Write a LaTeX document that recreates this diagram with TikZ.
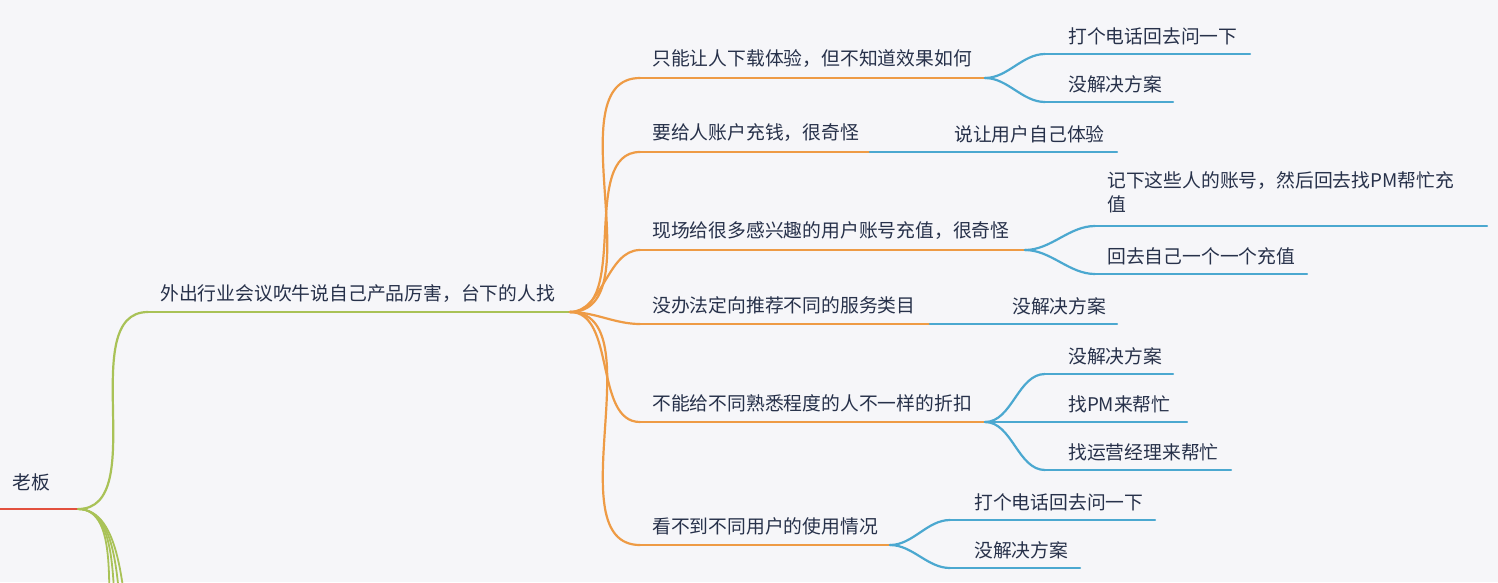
\documentclass[tikz,border=0pt]{standalone}
\usepackage{fontspec}
\setmainfont{Noto Sans CJK SC}
\begin{document}
\begin{tikzpicture}[x=1pt,y=-1pt,
  lbl/.style={anchor=west,inner sep=0pt,font=\fontsize{18.8}{24}\selectfont,text=txt},
  br/.style={line width=2.2pt,line cap=round},
  cv/.style={br,out=0,in=180,looseness=0.9}]
\definecolor{bg}{HTML}{F6F6F9}
\definecolor{txt}{HTML}{27314A}
\definecolor{cr}{HTML}{E2503E}
\definecolor{cg}{HTML}{A9C257}
\definecolor{co}{HTML}{EE9B45}
\definecolor{cb}{HTML}{4BA8D0}
\fill[bg] (0,0) rectangle (1498,582);
\useasboundingbox (0,0) rectangle (1498,582);
\clip (0,0) rectangle (1498,582);
% root
\coordinate (r0) at (-5,509); \coordinate (r1) at (78,509);
\node[lbl] (boss) at (12,482) {老板};
\draw[br,cr] (r0) -- (r1);
% green
\coordinate (g0) at (148,312); \coordinate (g1) at (570,312);
\node[lbl] (g) at (160,294) {外出行业会议吹牛说自己产品厉害，台下的人找};
\draw[cv,cg] (r1) to (g0); \draw[br,cg] (g0) -- (g1);
\foreach \e [count=\i] in {112,118,124,130}{
  \coordinate (gx\i) at (\e,640);
  \draw[cg,line width=1.8pt,out=0,in=100,looseness=0.8] (r1) to (gx\i);
}
% orange level
\foreach \n/\y/\xe/\t in {
  o1/78/985/只能让人下载体验，但不知道效果如何,
  o2/152/870/要给人账户充钱，很奇怪,
  o3/250/1025/现场给很多感兴趣的用户账号充值，很奇怪,
  o4/324/930/没办法定向推荐不同的服务类目,
  o5/422/985/不能给不同熟悉程度的人不一样的折扣,
  o6/545/890/看不到不同用户的使用情况}{
  \coordinate (\n s) at (640,\y); \coordinate (\n e) at (\xe,\y);
  \node[lbl] (\n) at (652,\y-19) {\t};
  \draw[cv,co] (g1) to (\n s); \draw[br,co] (\n s) -- (\n e);
}
% blue level
\foreach \p/\n/\y/\xs/\xe/\xt/\t in {
  o1/b11/54/1045/1250/1068/打个电话回去问一下,
  o1/b12/102/1045/1173/1068/没解决方案,
  o2/b21/152/940/1117/954/说让用户自己体验,
  o3/b32/274/1095/1307/1107/回去自己一个一个充值,
  o4/b41/324/1000/1117/1012/没解决方案,
  o5/b51/374/1045/1173/1068/没解决方案,
  o5/b52/422/1045/1187/1068/找PM来帮忙,
  o5/b53/470/1045/1231/1068/找运营经理来帮忙,
  o6/b61/520/950/1155/974/打个电话回去问一下,
  o6/b62/568/950/1080/974/没解决方案}{
  \coordinate (\n s) at (\xs,\y); \coordinate (\n e) at (\xe,\y);
  \node[lbl] (\n) at (\xt,\y-18) {\t};
  \draw[cv,cb] (\p e) to (\n s); \draw[br,cb] (\n s) -- (\n e);
}
\coordinate (b31s) at (1095,226); \coordinate (b31e) at (1487,226);
\node[lbl,align=left,anchor=north west] (b31) at (1107,171) {记下这些人的账号，然后回去找PM帮忙充\\值};
\draw[cv,cb] (o3e) to (b31s); \draw[br,cb] (b31s) -- (b31e);
\end{tikzpicture}
\end{document}
